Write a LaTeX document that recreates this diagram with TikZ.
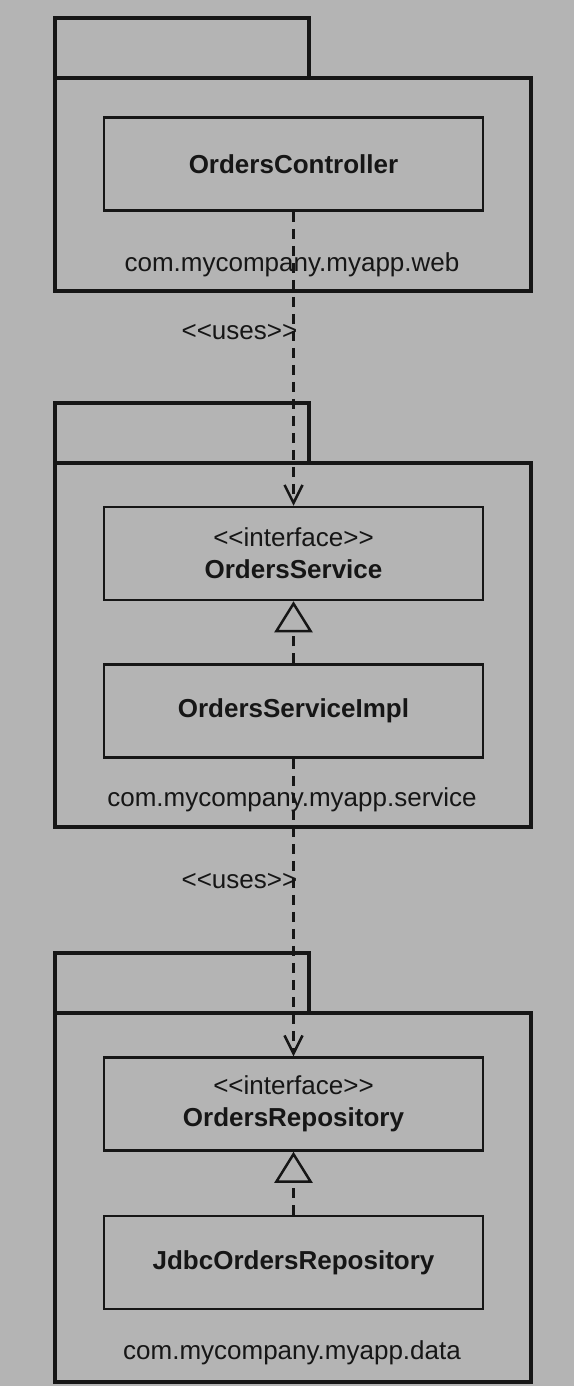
\documentclass[tikz,border=0pt]{standalone}
\usepackage{fontspec}
\setmainfont{Liberation Sans}[Ligatures=TeXOff]
\usetikzlibrary{positioning, arrows.meta}
\definecolor{bggray}{RGB}{180,180,180}
\definecolor{ink}{RGB}{22,22,22}

\begin{document}
\begin{tikzpicture}[x=1pt, y=-1pt, color=ink, font=\fontsize{26}{32}\selectfont,
	pkg/.style={draw, line width=4pt, inner sep=0pt, outer sep=0pt, minimum width=476pt},
	pkgtab/.style={draw, line width=4pt, inner sep=0pt, outer sep=0pt, minimum width=254pt, minimum height=60pt},
	cls/.style={draw, line width=2.5pt, minimum width=379pt, minimum height=93pt, align=center, font=\fontsize{26}{32}\selectfont\bfseries},
	dep/.style={line width=2.5pt, dash pattern=on 10pt off 7pt, -{Straight Barb[length=18pt, width=18pt]}},
	real/.style={line width=2.5pt, dash pattern=on 10pt off 7pt, -{Triangle[open, length=31pt, width=38pt, fill=bggray]}},
	stereo/.style={pos=0.41, anchor=east, inner sep=0pt, xshift=5pt}]
\fill[bggray] (0,0) rectangle (574,1386);

\node[pkg, minimum height=213pt] (web) at (293,184.5) {};
\node[pkgtab, above right=0pt of web.north west] (webtab) {};
\node (weblbl) at (292,265) {com.mycompany.myapp.web};
\node[cls] (ctrl) at (293.5,164) {OrdersController};

\node[pkg, minimum height=364pt] (service) at (293,645) {};
\node[pkgtab, above right=0pt of service.north west] (servicetab) {};
\node (servicelbl) at (292,800) {com.mycompany.myapp.service};
\node[cls] (svc) at (293.5,553.5) {\mdseries<<interface>>\\OrdersService};
\node[cls] (impl) at (293.5,711) {OrdersServiceImpl};

\node[pkg, minimum height=369pt] (data) at (293,1197.5) {};
\node[pkgtab, above right=0pt of data.north west] (datatab) {};
\node (datalbl) at (292,1353) {com.mycompany.myapp.data};
\node[cls] (repo) at (293.5,1104) {\mdseries<<interface>>\\OrdersRepository};
\node[cls] (jdbc) at (293.5,1262.5) {JdbcOrdersRepository};

\draw	(ctrl) edge[dep] node[stereo]{<<uses>>} (svc)
		(impl) edge[dep] node[stereo]{<<uses>>} (repo)
		(impl) edge[real] (svc)
		(jdbc) edge[real] (repo);

\end{tikzpicture}
\end{document}
